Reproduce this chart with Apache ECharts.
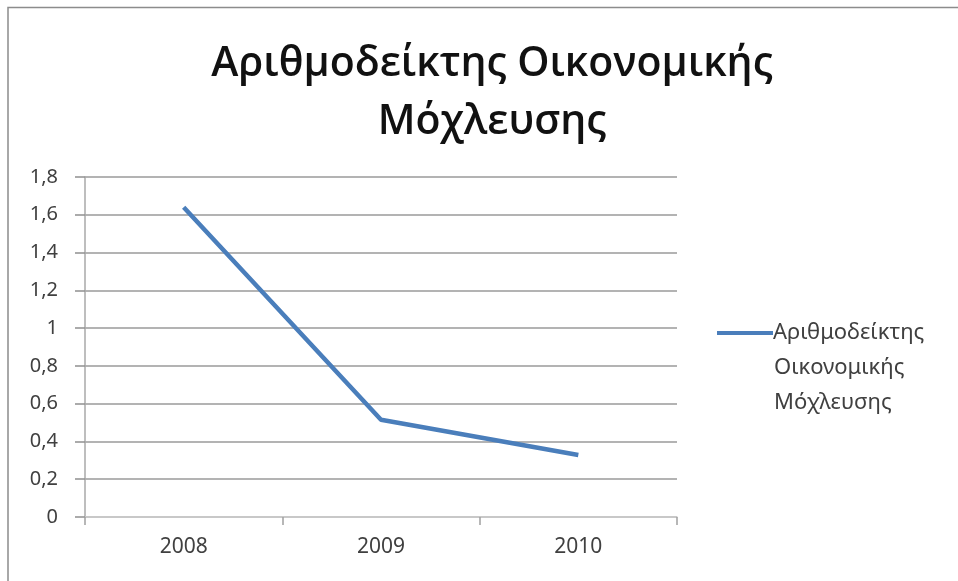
<!DOCTYPE html>
<html>
<head>
<meta charset="utf-8">
<script src="https://cdn.jsdelivr.net/npm/echarts@6/dist/echarts.min.js"></script>
<style>html,body{margin:0;padding:0;background:#fff}#c{width:958px;height:581px}</style>
</head>
<body>
<div id="c"></div>
<script>
const titleText = 'Αριθμοδείκτης Οικονομικής\nΜόχλευσης';
const categories = ['2008', '2009', '2010'];
const seriesName = 'Αριθμοδείκτης Οικονομικής Μόχλευσης';
const legendLines = ['Αριθμοδείκτης', 'Οικονομικής', 'Μόχλευσης'];
const values = [1.64, 0.515, 0.328];

const legendFont = {fontFamily: 'Noto Sans', fontSize: 22, fill: '#404040'};
const chart = echarts.init(document.getElementById('c'));
chart.setOption({
  animation: false,
  backgroundColor: '#fff',
  graphic: [
    {type: 'rect', shape: {x: 8, y: 7.5, width: 1200, height: 1200},
     style: {fill: 'none', stroke: '#8c8c8c', lineWidth: 1.5}, z: -1},
    {type: 'text', left: 774, top: 368 - 11, style: Object.assign({text: legendLines[1]}, legendFont)},
    {type: 'text', left: 774, top: 403 - 11, style: Object.assign({text: legendLines[2]}, legendFont)}
  ],
  title: {
    text: titleText, left: 487, top: 30, textAlign: 'center',
    textStyle: {fontFamily: 'Open Sans', fontSize: 41, fontWeight: 600, color: '#111', lineHeight: 58}
  },
  legend: {
    data: [seriesName], left: 717, top: 333 - 14, orient: 'vertical',
    itemWidth: 56, itemHeight: 4, itemGap: 0, padding: 0,
    icon: 'rect',
    formatter: () => legendLines[0],
    textStyle: {fontFamily: 'Noto Sans', fontSize: 22, color: '#404040', lineHeight: 28, padding: [0,0,0,-5]}
  },
  grid: {left: 85, right: 281, top: 177, bottom: 64, containLabel: false},
  xAxis: {
    type: 'category', data: categories, boundaryGap: true,
    axisLine: {lineStyle: {color: '#d0d0d0', width: 1.5}},
    axisTick: {show: true, length: 8, lineStyle: {color: '#a0a0a0', width: 1.5}, alignWithLabel: false},
    axisLabel: {fontFamily: 'Noto Sans', fontSize: 21, color: '#404040', margin: 20}
  },
  yAxis: {
    type: 'value', min: 0, max: 1.8, interval: 0.2,
    axisLine: {show: true, lineStyle: {color: '#a8a8a8', width: 1.5}},
    axisTick: {show: true, length: 10, lineStyle: {color: '#909090', width: 1.5}},
    splitLine: {lineStyle: {color: '#9a9a9a', width: 1.5}},
    axisLabel: {fontFamily: 'Noto Sans', fontSize: 20, color: '#404040', margin: 27,
      formatter: v => String(Math.round(v * 10) / 10).replace('.', ',')}
  },
  series: [{
    name: seriesName, type: 'line', data: values,
    symbol: 'none', lineStyle: {color: '#4a7ebb', width: 4.5},
    itemStyle: {color: '#4a7ebb'}
  }]
});
</script>
</body>
</html>
